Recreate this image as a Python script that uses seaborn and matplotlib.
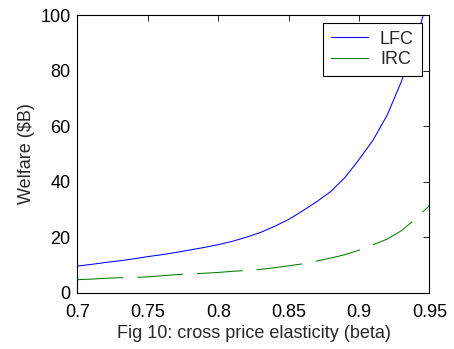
import numpy as np
import pandas as pd
import matplotlib
matplotlib.use("Agg")
import matplotlib.pyplot as plt
from matplotlib.lines import Line2D
import seaborn as sns

beta = [0.70, 0.71, 0.72, 0.73, 0.74, 0.75, 0.76, 0.77, 0.78, 0.79,
        0.80, 0.81, 0.82, 0.83, 0.84, 0.85, 0.86, 0.87, 0.88, 0.89,
        0.90, 0.91, 0.92, 0.93, 0.94, 0.95]
lfc = [9.6, 10.2, 10.9, 11.5, 12.2, 13.0, 13.7, 14.5, 15.4, 16.3,
       17.3, 18.5, 20.0, 21.7, 23.9, 26.4, 29.5, 32.8, 36.5, 41.5,
       48.0, 55.0, 64.0, 76.0, 90.0, 108.0]
irc = [4.7, 4.9, 5.2, 5.4, 5.5, 5.7, 6.1, 6.5, 6.8, 7.0,
       7.3, 7.7, 8.0, 8.4, 9.0, 9.7, 10.4, 11.4, 12.5, 13.7,
       15.3, 17.3, 19.3, 22.3, 26.5, 31.4]
series = ["LFC", "IRC"]
colors = {"LFC": "#0000ff", "IRC": "#008000"}
x_ticks = [0.7, 0.75, 0.8, 0.85, 0.9, 0.95]
x_ticklabels = ["0.7", "0.75", "0.8", "0.85", "0.9", "0.95"]
y_ticks = [0, 20, 40, 60, 80, 100]

df = pd.DataFrame({
    "beta": beta * 2,
    "welfare": lfc + irc,
    "series": [series[0]] * len(beta) + [series[1]] * len(beta),
})

sns.set_style("white")
plt.rcParams["font.family"] = ["Liberation Sans", "DejaVu Sans"]

FS = 13
fig = plt.figure(figsize=(4.54, 3.49), dpi=100)
ax = fig.add_axes([0.1707, 0.1613, 0.7753, 0.7957])

sns.lineplot(data=df, x="beta", y="welfare", hue="series", style="series",
             palette=colors,
             dashes={"LFC": "", "IRC": (44, 13.4)},
             linewidth=0.75, ax=ax, legend=False)

ax.set_xlim(0.7, 0.95)
ax.set_ylim(0, 100)
ax.set_xticks(x_ticks)
ax.set_xticklabels(x_ticklabels)
ax.set_yticks(y_ticks)
ax.tick_params(direction="in", length=4, width=0.6, top=True, right=True,
               labelsize=FS, colors="black")
ax.tick_params(axis="x", pad=8)
ax.tick_params(axis="y", pad=5)
for s in ax.spines.values():
    s.set_visible(True)
    s.set_color("black")
    s.set_linewidth(0.8)
ax.set_xlabel("Fig 10: cross price elasticity (beta)", fontsize=FS, labelpad=3)
ax.set_ylabel("Welfare ($B)", fontsize=FS, labelpad=4)

handles = [Line2D([], [], color=colors[s], linewidth=0.75) for s in series]
leg = ax.legend(handles, series, loc="upper right", fontsize=FS, frameon=True,
                fancybox=False, edgecolor="black", framealpha=1,
                borderaxespad=0.42, handlelength=2.05, handletextpad=0.65,
                borderpad=0.45, labelspacing=0.2)
leg.get_frame().set_linewidth(0.8)

fig.savefig("out.png", dpi=100)
